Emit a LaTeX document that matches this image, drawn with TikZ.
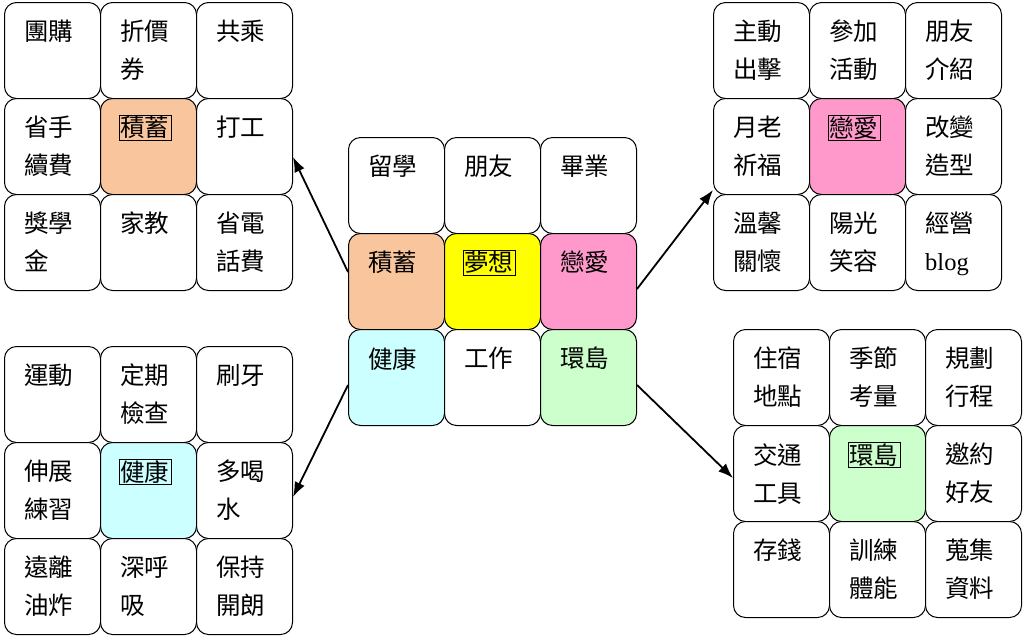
\documentclass[tikz,border=0pt]{standalone}
\usepackage{fontspec}
\setmainfont{Liberation Serif}
\newfontfamily\cjk{Noto Sans CJK TC}
\usetikzlibrary{arrows.meta}
\begin{document}
\begin{tikzpicture}[x=1pt,y=-1pt,
  cell/.style={draw=black,line width=1pt,rounded corners=12pt,minimum width=96pt,minimum height=96pt,anchor=north west,inner sep=0pt},
  txt/.style={anchor=north west,align=left,font=\fontsize{24.5}{38}\selectfont\cjk,inner sep=0pt},
  bx/.style={draw=black,line width=0.8pt,inner sep=1.5pt},
  arr/.style={-{Latex[length=15pt,width=11pt]},line width=1.8pt}]
\useasboundingbox (0,0) rectangle (1024,638);
\definecolor{cor}{HTML}{F9C59D}
\definecolor{cye}{HTML}{FFFF00}
\definecolor{cpk}{HTML}{FF99CC}
\definecolor{ccy}{HTML}{CCFFFF}
\definecolor{cgr}{HTML}{CCFFCC}
\newcommand{\mycell}[5]{%
  \node[cell,fill=#4] (#1) at (#2,#3) {};
  \node[txt] (#1t) at ([shift={(20pt,-18pt)}]#1.north west) {#5};}
\newcommand{\bcell}[5]{%
  \node[cell,fill=#4] (#1) at (#2,#3) {};
  \node[txt,bx] (#1t) at ([shift={(18.5pt,-16.5pt)}]#1.north west) {#5};}
% top-left
\mycell{a1}{4}{2}{white}{團購}
\mycell{a2}{100}{2}{white}{折價\\券}
\mycell{a3}{196}{2}{white}{共乘}
\mycell{a4}{4}{98}{white}{省手\\續費}
\bcell{a5}{100}{98}{cor}{積蓄}
\mycell{a6}{196}{98}{white}{打工}
\mycell{a7}{4}{194}{white}{獎學\\金}
\mycell{a8}{100}{194}{white}{家教}
\mycell{a9}{196}{194}{white}{省電\\話費}
% center
\mycell{c1}{348}{137}{white}{留學}
\mycell{c2}{444}{137}{white}{朋友}
\mycell{c3}{540}{137}{white}{畢業}
\mycell{c4}{348}{233}{cor}{積蓄}
\bcell{c5}{444}{233}{cye}{夢想}
\mycell{c6}{540}{233}{cpk}{戀愛}
\mycell{c7}{348}{329}{ccy}{健康}
\mycell{c8}{444}{329}{white}{工作}
\mycell{c9}{540}{329}{cgr}{環島}
% top-right
\mycell{b1}{713}{2}{white}{主動\\出擊}
\mycell{b2}{809}{2}{white}{參加\\活動}
\mycell{b3}{905}{2}{white}{朋友\\介紹}
\mycell{b4}{713}{98}{white}{月老\\祈福}
\bcell{b5}{809}{98}{cpk}{戀愛}
\mycell{b6}{905}{98}{white}{改變\\造型}
\mycell{b7}{713}{194}{white}{溫馨\\關懷}
\mycell{b8}{809}{194}{white}{陽光\\笑容}
\mycell{b9}{905}{194}{white}{經營\\{\rmfamily blog}}
% bottom-left
\mycell{d1}{4}{346}{white}{運動}
\mycell{d2}{100}{346}{white}{定期\\檢查}
\mycell{d3}{196}{346}{white}{刷牙}
\mycell{d4}{4}{442}{white}{伸展\\練習}
\bcell{d5}{100}{442}{ccy}{健康}
\mycell{d6}{196}{442}{white}{多喝\\水}
\mycell{d7}{4}{538}{white}{遠離\\油炸}
\mycell{d8}{100}{538}{white}{深呼\\吸}
\mycell{d9}{196}{538}{white}{保持\\開朗}
% bottom-right
\mycell{e1}{733}{329}{white}{住宿\\地點}
\mycell{e2}{829}{329}{white}{季節\\考量}
\mycell{e3}{925}{329}{white}{規劃\\行程}
\mycell{e4}{733}{425}{white}{交通\\工具}
\bcell{e5}{829}{425}{cgr}{環島}
\mycell{e6}{925}{425}{white}{邀約\\好友}
\mycell{e7}{733}{521}{white}{存錢}
\mycell{e8}{829}{521}{white}{訓練\\體能}
\mycell{e9}{925}{521}{white}{蒐集\\資料}
% arrows
\draw[arr] ([yshift=-39pt]c4.north west) -- (a6.east |- 0,157);
\draw[arr] ([yshift=-56pt]c6.north east) -- (b4.west |- 0,190);
\draw[arr] ([yshift=-56pt]c7.north west) -- (d6.east |- 0,497);
\draw[arr] ([yshift=-56pt]c9.north east) -- (e4.west |- 0,478);
\end{tikzpicture}
\end{document}
